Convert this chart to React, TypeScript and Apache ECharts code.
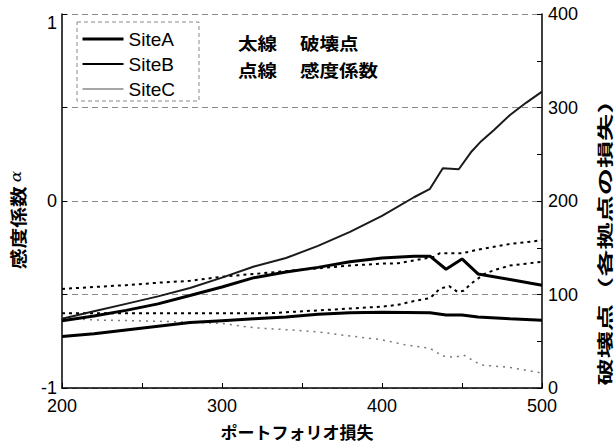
import React, { useEffect, useRef } from "react";
import * as echarts from "echarts";

// x-axis: ポートフォリオ損失
const xMin = 200;
const xMax = 500;
const xTickLabels = [200, 300, 400, 500];
const leftTickLabels = [-1, 0, 1];
const rightTickLabels = [0, 100, 200, 300, 400];

const siteNames = ["SiteA", "SiteB", "SiteC"];

// 破壊点 (thick solid, right axis)
const siteABreak: [number, number][] = [
  [200, 72], [220, 77], [240, 83], [260, 90], [280, 99], [300, 108], [320, 118],
  [340, 124], [360, 129], [380, 135], [400, 139], [420, 141], [430, 141],
  [440, 127], [450, 138], [460, 122], [480, 116], [500, 110],
];
const siteBBreak: [number, number][] = [
  [200, 55], [220, 58], [240, 62], [260, 66], [280, 70], [300, 72], [320, 74],
  [340, 76], [360, 79], [380, 80.5], [400, 81], [430, 80.5], [440, 78],
  [450, 78], [460, 76], [480, 74], [500, 72.5],
];
const siteCBreak: [number, number][] = [
  [200, 74], [220, 82], [240, 90], [260, 98], [280, 107], [300, 118], [320, 130],
  [340, 139], [360, 152], [380, 167], [400, 184], [420, 204], [430, 213],
  [438, 235], [448, 234], [456, 253], [462, 264], [470, 276], [480, 292],
  [490, 305], [500, 317],
];

// 感度係数 (dotted, left axis)
const siteASens: [number, number][] = [
  [200, -0.47], [220, -0.46], [240, -0.45], [260, -0.437], [280, -0.427],
  [300, -0.405], [320, -0.39], [340, -0.375], [360, -0.36], [380, -0.345],
  [400, -0.335], [410, -0.333], [425, -0.31], [432, -0.3], [436, -0.28],
  [450, -0.28], [460, -0.26], [470, -0.245], [480, -0.23], [490, -0.22],
  [500, -0.21],
];
const siteBSens: [number, number][] = [
  [200, -0.6], [250, -0.6], [300, -0.6], [330, -0.6], [350, -0.59], [370, -0.58],
  [390, -0.57], [400, -0.565], [410, -0.555], [420, -0.535], [430, -0.52],
  [436, -0.47], [442, -0.455], [447, -0.485], [451, -0.48], [456, -0.44],
  [464, -0.39], [470, -0.37], [480, -0.345], [490, -0.335], [500, -0.325],
];
const siteCSens: [number, number][] = [
  [200, -0.627], [220, -0.636], [260, -0.643], [300, -0.655], [320, -0.678],
  [340, -0.688], [360, -0.7], [380, -0.722], [400, -0.742], [415, -0.77],
  [430, -0.788], [438, -0.829], [445, -0.836], [451, -0.824], [458, -0.859],
  [462, -0.877], [480, -0.89], [500, -0.92],
];

const NUM_FONT = '"Liberation Sans", Arial, sans-serif';
const CJK_FONT = '"Noto Sans CJK JP", sans-serif';

export default function App() {
  const ref = useRef<HTMLDivElement>(null);

  useEffect(() => {
    if (!ref.current) return;
    const chart = echarts.init(ref.current, null, { renderer: "svg" });

    const solid = (name: string, data: [number, number][], width: number, color: string) => ({
      name,
      type: "line",
      yAxisIndex: 1,
      data,
      symbol: "none",
      showSymbol: false,
      lineStyle: { color, width, type: "solid" },
      itemStyle: { color },
      z: 3,
    });
    const dotted = (name: string, data: [number, number][], width: number, color: string, dash: number[]) => ({
      name,
      type: "line",
      yAxisIndex: 0,
      data,
      symbol: "none",
      showSymbol: false,
      lineStyle: { color, width, type: dash },
      itemStyle: { color },
      z: 2,
    });

    const option: any = {
      animation: false,
      backgroundColor: "#fff",
      grid: { left: 62, right: 73, top: 14, bottom: 56 },
      xAxis: {
        type: "value",
        min: xMin,
        max: xMax,
        interval: 50,
        axisLine: { show: true, onZero: false, lineStyle: { color: "#000", width: 1.5 } },
        axisTick: { show: true, inside: true, length: 5, lineStyle: { color: "#000" } },
        axisLabel: {
          formatter: (v: number) => (xTickLabels.includes(v) ? String(v) : ""),
          fontSize: 18,
          color: "#000",
          fontFamily: NUM_FONT,
          margin: 9,
        },
        splitLine: { show: false },
      },
      yAxis: [
        {
          type: "value",
          min: -1,
          max: 1,
          interval: 0.5,
          position: "left",
          axisLine: { show: true, onZero: false, lineStyle: { color: "#000", width: 1.5 } },
          axisTick: { show: true, inside: true, length: 5, lineStyle: { color: "#000" } },
          axisLabel: {
            formatter: (v: number) => {
              const m = leftTickLabels.find((t) => Math.abs(t - v) < 1e-9);
              return m === undefined ? "" : String(m);
            },
            fontSize: 18,
            color: "#000",
            fontFamily: NUM_FONT,
            margin: 5,
            verticalAlignMaxLabel: "top",
          },
          splitLine: { show: true, lineStyle: { color: "#8a8a8a", width: 1, type: [6, 4] } },
        },
        {
          type: "value",
          min: 0,
          max: 400,
          interval: 50,
          position: "right",
          axisLine: { show: true, onZero: false, lineStyle: { color: "#000", width: 1.5 } },
          axisTick: { show: true, inside: true, length: 5, lineStyle: { color: "#000" } },
          axisLabel: {
            formatter: (v: number) => (rightTickLabels.includes(v) ? String(v) : ""),
            fontSize: 18,
            color: "#000",
            fontFamily: NUM_FONT,
            margin: 6,
          },
          splitLine: { show: false },
        },
      ],
      legend: {
        orient: "vertical",
        left: 81,
        top: 29,
        padding: 0,
        itemWidth: 41,
        itemHeight: 14,
        itemGap: 5,
        itemStyle: { opacity: 0 },
        textStyle: { fontSize: 19, color: "#000", fontFamily: NUM_FONT, lineHeight: 20 },
        data: [
          { name: siteNames[0], itemStyle: { opacity: 0 }, lineStyle: { color: "#000", width: 3 } },
          { name: siteNames[1], itemStyle: { opacity: 0 }, lineStyle: { color: "#000", width: 2 } },
          { name: siteNames[2], itemStyle: { opacity: 0 }, lineStyle: { color: "#888", width: 1.5 } },
        ],
      },
      graphic: [
        {
          type: "rect",
          shape: { x: 77, y: 22, width: 122, height: 79 },
          style: { fill: "none", stroke: "#888", lineWidth: 1, lineDash: [4, 3] },
          silent: true,
        },
        {
          type: "text", x: 238, y: 43, scaleX: 1.15,
          style: { text: "太線", fontSize: 17, fontWeight: "bold", fontFamily: CJK_FONT, fill: "#000", align: "left", verticalAlign: "middle" },
        },
        {
          type: "text", x: 300, y: 43, scaleX: 1.15,
          style: { text: "破壊点", fontSize: 17, fontWeight: "bold", fontFamily: CJK_FONT, fill: "#000", align: "left", verticalAlign: "middle" },
        },
        {
          type: "text", x: 238, y: 70, scaleX: 1.15,
          style: { text: "点線", fontSize: 17, fontWeight: "bold", fontFamily: CJK_FONT, fill: "#000", align: "left", verticalAlign: "middle" },
        },
        {
          type: "text", x: 300, y: 70, scaleX: 1.15,
          style: { text: "感度係数", fontSize: 17, fontWeight: "bold", fontFamily: CJK_FONT, fill: "#000", align: "left", verticalAlign: "middle" },
        },
        {
          type: "text", x: 297, y: 431,
          style: { text: "ポートフォリオ損失", fontSize: 17, fontWeight: "bold", fontFamily: CJK_FONT, fill: "#000", align: "center", verticalAlign: "middle" },
        },
        {
          type: "text", x: 17, y: 220, rotation: Math.PI / 2, scaleX: 1.22,
          style: {
            text: "{a|感度係数} {b|α}",
            align: "center",
            verticalAlign: "middle",
            rich: {
              a: { fontSize: 17, fontWeight: "bold", fontFamily: CJK_FONT, fill: "#000", color: "#000" },
              b: { fontSize: 14, fontStyle: "italic", fontFamily: '"DejaVu Serif", serif', fill: "#000", color: "#000" },
            },
          },
        },
        {
          type: "text", x: 604, y: 236, rotation: Math.PI / 2, scaleX: 1.7,
          style: { text: "破壊点（各拠点の損失）", fontSize: 16, fontWeight: "bold", fontFamily: CJK_FONT, fill: "#000", align: "center", verticalAlign: "middle" },
        },
      ],
      series: [
        solid(siteNames[0], siteABreak, 3, "#000"),
        solid(siteNames[1], siteBBreak, 3, "#000"),
        solid(siteNames[2], siteCBreak, 2, "#1a1a1a"),
        dotted(siteNames[0], siteASens, 2, "#000", [3, 4]),
        dotted(siteNames[1], siteBSens, 2, "#000", [3, 4]),
        dotted(siteNames[2], siteCSens, 1.5, "#777", [2, 5]),
      ],
    };

    chart.setOption(option);
    return () => chart.dispose();
  }, []);

  return (
    <div
      ref={ref}
      style={{ position: "fixed", left: 0, top: 0, width: 615, height: 444, background: "#fff" }}
    />
  );
}
